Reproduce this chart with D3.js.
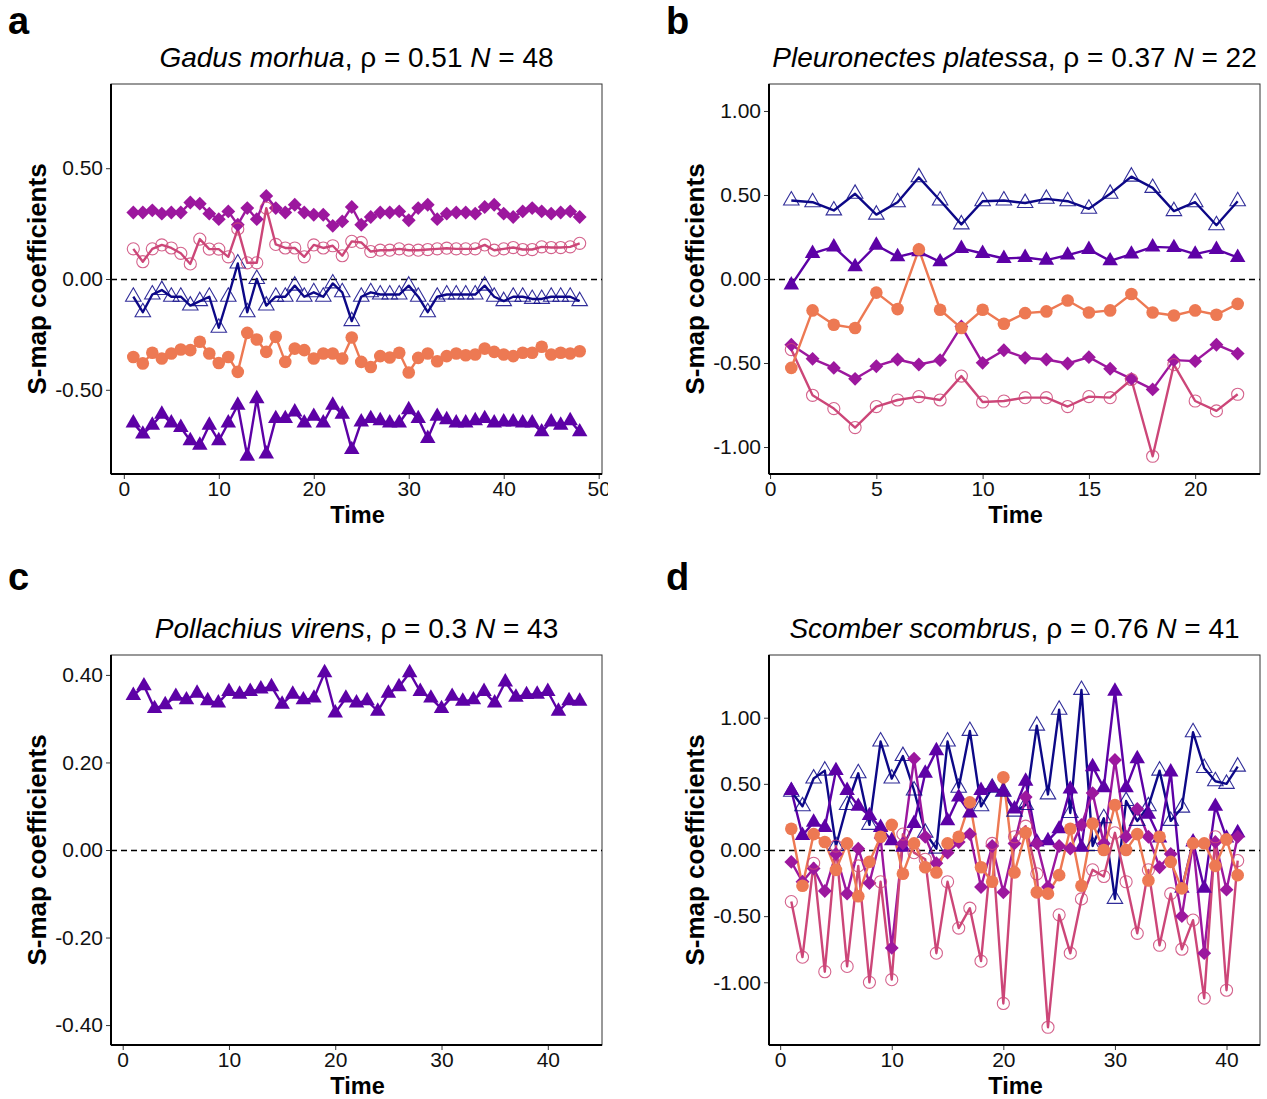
<!DOCTYPE html>
<html>
<head>
<meta charset="utf-8">
<script src="https://cdn.jsdelivr.net/npm/d3@7"></script>
<style>
  body { margin: 0; background: #fff; }
  text { font-family: "Liberation Sans", Arial, sans-serif; }
</style>
</head>
<body>
<div id="chart"></div>
<script>
// ---- data (one value per time step) ----
var gadusNavy = [-0.08,-0.15,-0.07,-0.05,-0.08,-0.08,-0.12,-0.10,-0.08,-0.22,-0.08,0.07,-0.15,0.00,-0.12,-0.08,-0.08,-0.03,-0.08,-0.06,-0.08,-0.02,-0.06,-0.19,-0.08,-0.06,-0.07,-0.07,-0.07,-0.03,-0.08,-0.15,-0.08,-0.07,-0.07,-0.07,-0.07,-0.03,-0.08,-0.10,-0.08,-0.08,-0.09,-0.09,-0.08,-0.08,-0.08,-0.10];
var gadusPurple = [-0.65,-0.70,-0.66,-0.61,-0.65,-0.67,-0.73,-0.75,-0.66,-0.73,-0.65,-0.57,-0.80,-0.54,-0.79,-0.63,-0.63,-0.60,-0.65,-0.62,-0.65,-0.57,-0.61,-0.77,-0.645,-0.63,-0.64,-0.65,-0.65,-0.59,-0.63,-0.72,-0.62,-0.635,-0.65,-0.65,-0.64,-0.63,-0.65,-0.645,-0.645,-0.65,-0.65,-0.69,-0.645,-0.66,-0.64,-0.69];
var gadusMagenta = [0.30,0.30,0.31,0.295,0.30,0.30,0.345,0.34,0.295,0.27,0.305,0.245,0.32,0.27,0.375,0.32,0.30,0.335,0.30,0.29,0.29,0.24,0.26,0.325,0.245,0.28,0.30,0.30,0.305,0.265,0.32,0.335,0.27,0.295,0.30,0.30,0.295,0.325,0.335,0.295,0.28,0.305,0.32,0.305,0.295,0.30,0.305,0.28];
var gadusPink = [0.136,0.078,0.136,0.154,0.14,0.116,0.068,0.18,0.135,0.135,0.10,0.226,0.073,0.073,0.32,0.156,0.14,0.14,0.10,0.154,0.14,0.15,0.105,0.17,0.165,0.124,0.13,0.13,0.136,0.13,0.13,0.133,0.136,0.139,0.136,0.136,0.136,0.154,0.13,0.136,0.142,0.133,0.133,0.145,0.142,0.142,0.145,0.161];
var gadusOrange = [-0.352,-0.381,-0.333,-0.359,-0.336,-0.318,-0.321,-0.283,-0.336,-0.379,-0.352,-0.419,-0.243,-0.273,-0.329,-0.261,-0.374,-0.314,-0.321,-0.359,-0.336,-0.336,-0.359,-0.264,-0.374,-0.397,-0.348,-0.354,-0.333,-0.422,-0.356,-0.336,-0.371,-0.348,-0.336,-0.344,-0.341,-0.314,-0.329,-0.341,-0.348,-0.333,-0.333,-0.306,-0.341,-0.333,-0.336,-0.326];

var plaiceNavy = [0.467,0.457,0.408,0.507,0.383,0.457,0.605,0.467,0.325,0.463,0.467,0.452,0.477,0.463,0.418,0.507,0.609,0.542,0.404,0.457,0.32,0.463];
var plaicePurple = [-0.036,0.152,0.191,0.073,0.201,0.132,0.162,0.102,0.182,0.152,0.122,0.128,0.112,0.142,0.176,0.108,0.148,0.191,0.187,0.148,0.176,0.128];
var plaiceMagenta = [-0.391,-0.475,-0.529,-0.594,-0.519,-0.479,-0.509,-0.483,-0.282,-0.499,-0.424,-0.469,-0.479,-0.503,-0.465,-0.534,-0.594,-0.657,-0.483,-0.489,-0.391,-0.444];
var plaicePink = [-0.42,-0.692,-0.771,-0.884,-0.759,-0.72,-0.70,-0.72,-0.578,-0.732,-0.726,-0.706,-0.706,-0.759,-0.70,-0.706,-0.598,-1.055,-0.509,-0.726,-0.785,-0.686];
var plaiceOrange = [-0.529,-0.187,-0.272,-0.292,-0.081,-0.179,0.176,-0.183,-0.292,-0.183,-0.266,-0.203,-0.193,-0.128,-0.199,-0.187,-0.089,-0.199,-0.217,-0.187,-0.213,-0.148];

var saithePurple = [0.353,0.375,0.323,0.332,0.351,0.343,0.358,0.341,0.336,0.362,0.356,0.362,0.368,0.373,0.333,0.356,0.343,0.347,0.405,0.313,0.347,0.336,0.341,0.317,0.358,0.373,0.405,0.362,0.347,0.323,0.351,0.340,0.343,0.362,0.336,0.384,0.349,0.355,0.356,0.362,0.317,0.341,0.340];

var mackerelNavy = [0.44,0.33,0.54,0.60,0.03,0.34,0.58,0.19,0.82,0.54,0.71,0.45,0.13,0.01,0.82,0.47,0.90,0.33,0.47,0.44,0.29,0.34,0.94,0.42,1.06,0.28,1.21,0.03,0.24,-0.37,0.37,0.22,0.33,0.60,0.22,0.32,0.89,0.62,0.52,0.50,0.63];
var mackerelPurple = [0.45,0.11,0.21,0.17,0.60,0.45,0.33,0.26,0.17,0.07,0.02,0.20,0.58,0.75,0.22,0.40,0.28,0.45,0.47,0.44,0.31,0.52,0.06,0.07,0.16,0.46,0.02,0.63,0.47,1.20,0.47,0.69,0.27,0.09,0.59,-0.29,0.06,-0.29,0.33,0.09,0.13];
var mackerelMagenta = [-0.09,-0.24,-0.14,-0.31,-0.03,-0.33,0.01,-0.25,0.09,-0.74,0.05,0.69,0.10,-0.10,-0.02,0.06,0.12,-0.28,0.03,-0.32,0.05,0.40,0.05,-0.28,0.03,0.01,0.19,0.43,0.05,0.68,0.10,0.31,0.10,-0.13,-0.03,-0.50,0.05,-0.78,0.06,-0.30,0.10];
var mackerelPink = [-0.39,-0.81,-0.10,-0.92,0.03,-0.88,-0.12,-1.00,-0.24,-0.98,0.12,-0.02,-0.07,-0.78,-0.24,-0.59,-0.44,-0.84,0.05,-1.16,0.10,0.18,-0.18,-1.34,-0.49,-0.78,-0.37,-0.15,-0.20,0.13,-0.24,-0.63,-0.15,-0.72,-0.33,-0.75,-0.53,-1.12,0.10,-1.06,-0.08];
var mackerelOrange = [0.16,-0.27,0.12,0.06,-0.15,0.05,-0.35,-0.09,0.10,0.19,-0.18,0.05,-0.13,-0.17,0.05,0.10,0.36,-0.13,-0.24,0.55,-0.17,0.13,-0.32,-0.33,-0.19,0.16,-0.27,0.20,0.00,0.34,0.00,0.12,-0.23,0.10,-0.09,-0.29,0.05,0.05,-0.12,0.08,-0.19];

// tick labels
var xTicksA = [0, 10, 20, 30, 40, 50];
var xTicksB = [0, 5, 10, 15, 20];
var xTicksCD = [0, 10, 20, 30, 40];
var yTicksA = [-0.5, 0, 0.5];
var yTicksBD = [-1, -0.5, 0, 0.5, 1];
var yTicksC = [-0.4, -0.2, 0, 0.2, 0.4];

// marker styles per variable (plasma palette)
var styles = {
  navy:    { color: "#0D0887", shape: "triangle", open: true },
  purple:  { color: "#5D01A6", shape: "triangle", open: false },
  magenta: { color: "#9C179E", shape: "diamond",  open: false },
  pink:    { color: "#CC4678", shape: "circle",   open: true },
  orange:  { color: "#ED7953", shape: "circle",   open: false }
};

var panels = [
  { tag: "a", species: "Gadus morhua", rho: "0.51", n: "48", ox: 0, oy: 0, tagY: 34,
    xTicks: xTicksA, yTicks: yTicksA, clipW: 608,
    series: [["navy", gadusNavy], ["purple", gadusPurple], ["magenta", gadusMagenta], ["pink", gadusPink], ["orange", gadusOrange]] },
  { tag: "b", species: "Pleuronectes platessa", rho: "0.37", n: "22", ox: 658, oy: 0, tagY: 34,
    xTicks: xTicksB, yTicks: yTicksBD,
    series: [["navy", plaiceNavy], ["purple", plaicePurple], ["magenta", plaiceMagenta], ["pink", plaicePink], ["orange", plaiceOrange]] },
  { tag: "c", species: "Pollachius virens", rho: "0.3", n: "43", ox: 0, oy: 571, tagY: 19,
    xTicks: xTicksCD, yTicks: yTicksC,
    series: [["purple", saithePurple]] },
  { tag: "d", species: "Scomber scombrus", rho: "0.76", n: "41", ox: 658, oy: 571, tagY: 19,
    xTicks: xTicksCD, yTicks: yTicksBD,
    series: [["navy", mackerelNavy], ["purple", mackerelPurple], ["magenta", mackerelMagenta], ["pink", mackerelPink], ["orange", mackerelOrange]] }
];

var svgWidth = 1267, svgHeight = 1099;
var margin = { top: 84, left: 111 };
var width = 491, height = 390;

var svg = d3.select("#chart").append("svg")
  .attr("width", svgWidth)
  .attr("height", svgHeight)
  .style("display", "block");

var defs = svg.append("defs");

function markerPath(st) {
  if (st.shape === "triangle") return d3.symbol(d3.symbolTriangle, 104)();
  if (st.shape === "diamond") return d3.symbol(d3.symbolSquare, 96)();
  return d3.symbol(d3.symbolCircle, st.open ? 115 : 125)();
}

panels.forEach(function(p, pi) {
  var g = svg.append("g").attr("transform", `translate(${p.ox}, ${p.oy})`);

  if (p.clipW) {
    defs.append("clipPath").attr("id", "clip" + pi)
      .append("rect").attr("x", 0).attr("y", 0).attr("width", p.clipW).attr("height", 571);
    g.attr("clip-path", `url(#clip${pi})`);
    g = g.append("g");
  }

  // panel tag
  g.append("text")
    .attr("x", 8).attr("y", p.tagY)
    .attr("font-size", 38).attr("font-weight", "bold")
    .text(p.tag);

  // title: italic species, rho, italic N
  var title = g.append("text")
    .attr("x", margin.left + width / 2).attr("y", 67)
    .attr("text-anchor", "middle")
    .attr("font-size", 28);
  title.append("tspan").attr("font-style", "italic").text(p.species);
  title.append("tspan").text(", \u03C1 = " + p.rho + " ");
  title.append("tspan").attr("font-style", "italic").text("N");
  title.append("tspan").text(" = " + p.n);

  var plot = g.append("g").attr("transform", `translate(${margin.left}, ${margin.top})`);

  var nPts = p.series[0][1].length;
  var span = nPts - 1;
  var x = d3.scaleLinear()
    .domain([1 - 0.05 * span, nPts + 0.05 * span])
    .range([0, width]);

  var maxAbs = d3.max(p.series, s => d3.max(s[1], v => Math.abs(v)));
  var y = d3.scaleLinear()
    .domain([-maxAbs * 1.1, maxAbs * 1.1])
    .range([height, 0]);

  // frame
  plot.append("rect")
    .attr("width", width).attr("height", height)
    .attr("fill", "none").attr("stroke", "#333").attr("stroke-width", 1);

  // zero line
  plot.append("line")
    .attr("x1", 0).attr("x2", width)
    .attr("y1", Math.round(y(0)) + 0.5).attr("y2", Math.round(y(0)) + 0.5)
    .attr("stroke", "#000").attr("stroke-width", 1.5)
    .attr("stroke-dasharray", "6,4");

  // axes
  var xAxis = plot.append("g")
    .attr("transform", `translate(0, ${height})`)
    .call(d3.axisBottom(x).tickValues(p.xTicks).tickSize(5).tickPadding(2).tickFormat(d3.format("d")));
  var yAxis = plot.append("g")
    .call(d3.axisLeft(y).tickValues(p.yTicks).tickSize(5).tickPadding(3).tickFormat(d => d.toFixed(2)));

  [xAxis, yAxis].forEach(function(ax) {
    ax.attr("font-size", 21).attr("font-family", "Liberation Sans, Arial, sans-serif");
    ax.select(".domain").remove();
    ax.selectAll(".tick line").attr("stroke", "#333").attr("stroke-width", 1);
    ax.selectAll(".tick text").attr("fill", "#111");
  });
  plot.append("line").attr("x1", 0).attr("x2", width).attr("y1", height).attr("y2", height)
    .attr("stroke", "#000").attr("stroke-width", 2);
  plot.append("line").attr("x1", 0).attr("x2", 0).attr("y1", 0).attr("y2", height)
    .attr("stroke", "#000").attr("stroke-width", 2);

  // axis titles
  g.append("text")
    .attr("x", margin.left + width / 2 + 1).attr("y", 523)
    .attr("text-anchor", "middle")
    .attr("font-size", 23.5).attr("font-weight", "bold")
    .text("Time");
  g.append("text")
    .attr("transform", `translate(46, ${margin.top + height / 2}) rotate(-90)`)
    .attr("text-anchor", "middle")
    .attr("font-size", 26).attr("font-weight", "bold")
    .text("S-map coefficients");

  var line = d3.line()
    .x((d, i) => x(i + 1))
    .y(d => y(d));

  // lines first, then points
  p.series.forEach(function(s) {
    var st = styles[s[0]];
    plot.append("path")
      .datum(s[1])
      .attr("d", line)
      .attr("fill", "none")
      .attr("stroke", st.color)
      .attr("stroke-width", 2.4)
      .attr("stroke-linejoin", "round");
  });

  p.series.forEach(function(s) {
    var st = styles[s[0]];
    plot.append("g").selectAll("path")
      .data(s[1])
      .enter()
      .append("path")
      .attr("d", markerPath(st))
      .attr("transform", (d, i) => `translate(${x(i + 1)}, ${y(d)})` + (st.shape === "diamond" ? " rotate(45)" : ""))
      .attr("fill", st.open ? "none" : st.color)
      .attr("stroke", st.color)
      .attr("stroke-width", st.open ? 1.1 : 0)
      .attr("stroke-opacity", st.open ? 0.85 : 1);
  });
});
</script>
</body>
</html>
